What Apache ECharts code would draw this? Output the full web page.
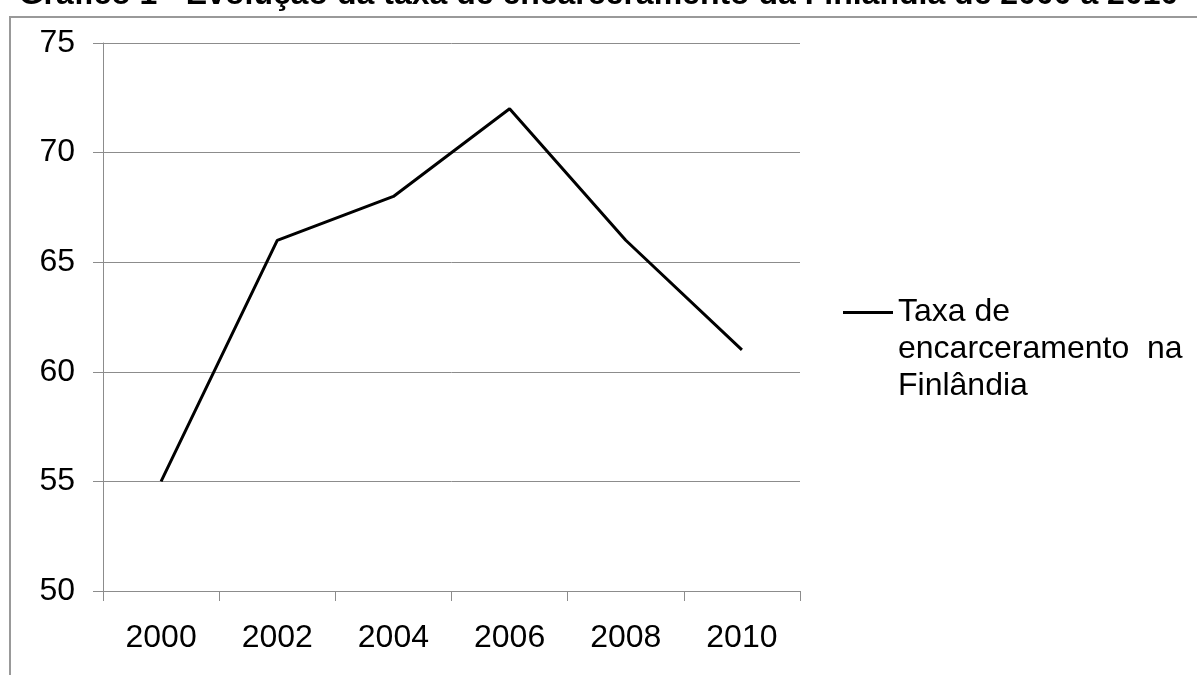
<!DOCTYPE html>
<html>
<head>
<meta charset="utf-8">
<script src="https://cdn.jsdelivr.net/npm/echarts@6/dist/echarts.min.js"></script>
<style>
  html, body { margin: 0; padding: 0; background: #fff; }
  #chart { width: 1197px; height: 675px; }
</style>
</head>
<body>
<div id="chart"></div>
<script>
// Chart text and values
const titleText = 'Gráfico 1 - Evolução da taxa de encarceramento da Finlândia de 2000 a 2010';
const years = ['2000', '2002', '2004', '2006', '2008', '2010'];
const seriesName = 'Taxa de encarceramento  na Finlândia';
const legendLines = ['Taxa de', 'encarceramento  na', 'Finlândia'];
const rates = [55, 66, 68, 72, 66, 61];
const yMin = 50;
const yMax = 75;
const yStep = 5;

const FONT = 'Arial, "Liberation Sans", sans-serif';
const GRID_GRAY = '#8c8c8c';
const LEGEND_LINE_H = 37;

// Legend key: a short thick stroke level with the first text line,
// inside a box as tall as the three-line label.
const legendBoxH = LEGEND_LINE_H * legendLines.length;
const keyY = LEGEND_LINE_H / 2 - 1.5;
const legendIcon = 'path://M0,0 M0,' + keyY + 'H50V' + (keyY + 3) + 'H0Z M50,' + legendBoxH;

const chart = echarts.init(document.getElementById('chart'), null, { renderer: 'canvas' });

chart.setOption({
  backgroundColor: '#ffffff',
  animation: false,
  title: {
    text: titleText,
    left: 'center',
    top: -21,
    padding: 0,
    textStyle: { fontFamily: FONT, fontSize: 32, fontWeight: 'bold', color: '#000' }
  },
  graphic: [{
    // outer frame: left and top edges
    type: 'polyline',
    silent: true,
    shape: { points: [[10, 675], [10, 17], [1197, 17]] },
    style: { stroke: '#999999', lineWidth: 2, fill: null }
  }],
  legend: {
    data: [{ name: seriesName, icon: legendIcon }],
    left: 843,
    top: 294,
    padding: 0,
    itemWidth: 50,
    itemHeight: legendBoxH,
    itemStyle: { color: '#000', borderWidth: 0 },
    formatter: () => legendLines.join('\n'),
    textStyle: {
      fontFamily: FONT, fontSize: 32, color: '#000',
      lineHeight: LEGEND_LINE_H
    }
  },
  grid: { left: 103, top: 43, right: 397, bottom: 84, containLabel: false },
  xAxis: {
    type: 'category',
    data: years,
    boundaryGap: true,
    axisLine: { show: true, lineStyle: { color: GRID_GRAY, width: 1 } },
    axisTick: { show: true, length: 10, alignWithLabel: false, lineStyle: { color: GRID_GRAY } },
    axisLabel: { fontFamily: FONT, fontSize: 32, color: '#000', margin: 31 },
    splitLine: { show: false }
  },
  yAxis: {
    type: 'value',
    min: yMin,
    max: yMax,
    interval: yStep,
    axisLine: { show: true, lineStyle: { color: GRID_GRAY, width: 1 } },
    axisTick: { show: true, length: 10, lineStyle: { color: GRID_GRAY } },
    axisLabel: { fontFamily: FONT, fontSize: 32, color: '#000', margin: 28 },
    splitLine: { show: true, lineStyle: { color: GRID_GRAY, width: 1 } }
  },
  series: [{
    name: seriesName,
    type: 'line',
    data: rates,
    symbol: 'none',
    showSymbol: false,
    lineStyle: { color: '#000', width: 3 },
    itemStyle: { color: '#000' }
  }]
});
</script>
</body>
</html>
